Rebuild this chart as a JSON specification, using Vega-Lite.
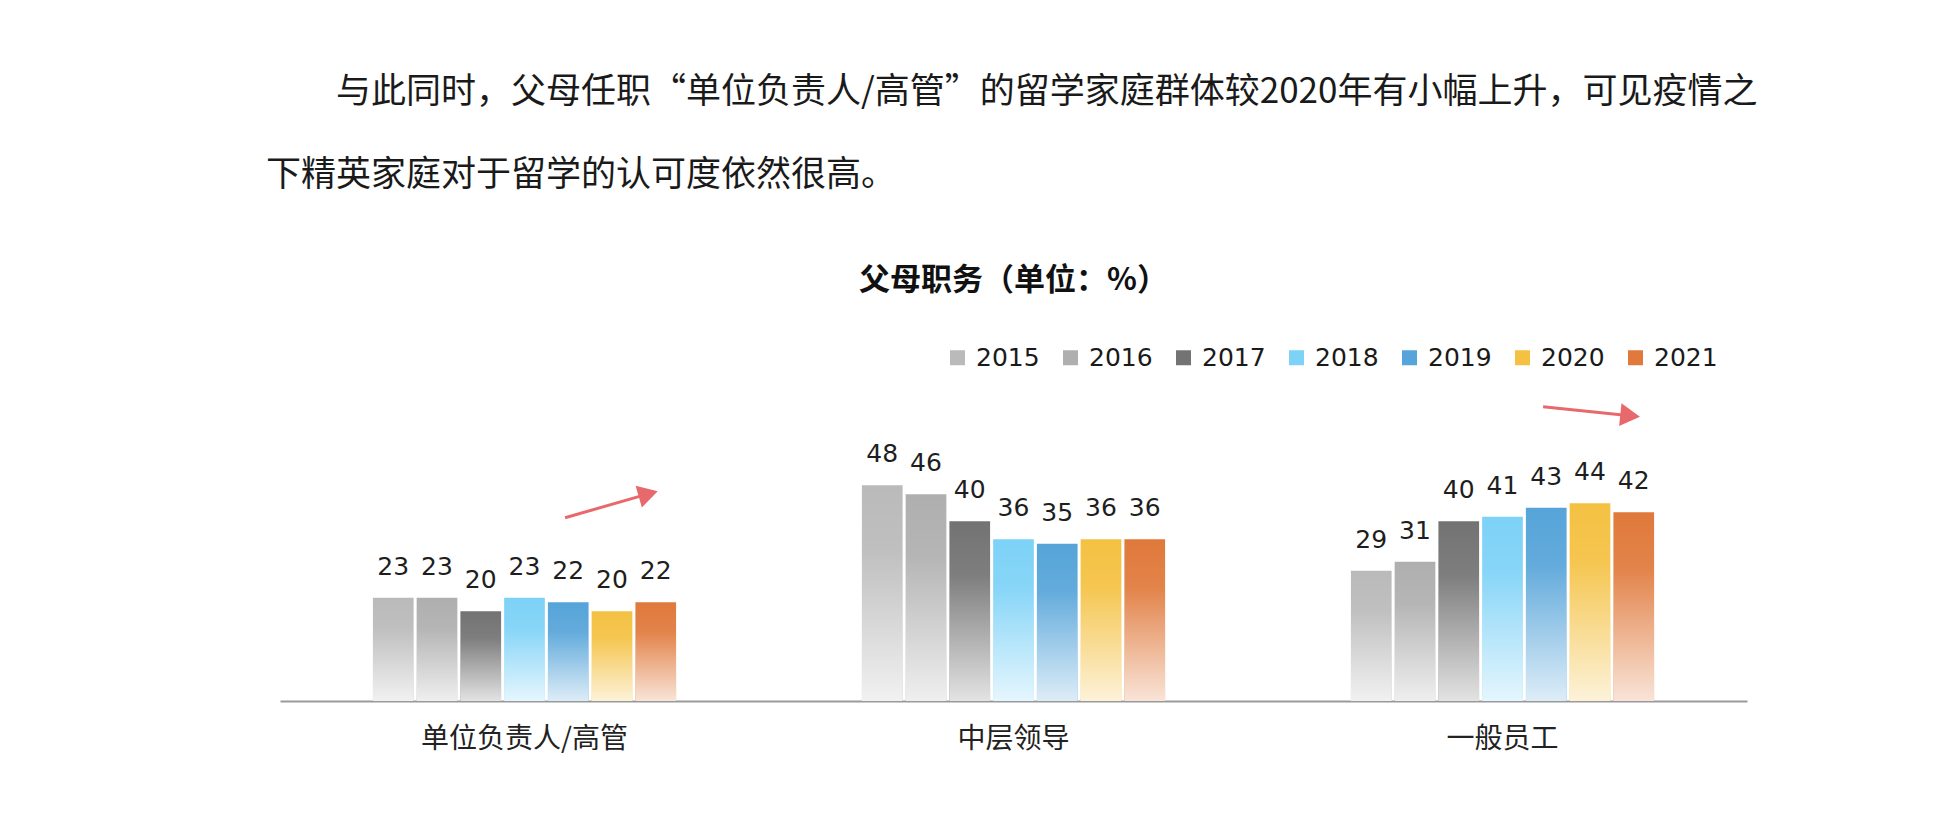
{
  "$schema": "https://vega.github.io/schema/vega-lite/v6.json",
  "background": "white",
  "padding": {"left": 266, "top": 75, "right": 10, "bottom": 10},
  "autosize": {"type": "pad"},
  "config": {
    "view": {"stroke": null},
    "concat": {"spacing": 0}
  },
  "datasets": {
    "bars": [
      {"group": "单位负责人/高管", "year": "2015", "value": 23},
      {"group": "单位负责人/高管", "year": "2016", "value": 23},
      {"group": "单位负责人/高管", "year": "2017", "value": 20},
      {"group": "单位负责人/高管", "year": "2018", "value": 23},
      {"group": "单位负责人/高管", "year": "2019", "value": 22},
      {"group": "单位负责人/高管", "year": "2020", "value": 20},
      {"group": "单位负责人/高管", "year": "2021", "value": 22},
      {"group": "中层领导", "year": "2015", "value": 48},
      {"group": "中层领导", "year": "2016", "value": 46},
      {"group": "中层领导", "year": "2017", "value": 40},
      {"group": "中层领导", "year": "2018", "value": 36},
      {"group": "中层领导", "year": "2019", "value": 35},
      {"group": "中层领导", "year": "2020", "value": 36},
      {"group": "中层领导", "year": "2021", "value": 36},
      {"group": "一般员工", "year": "2015", "value": 29},
      {"group": "一般员工", "year": "2016", "value": 31},
      {"group": "一般员工", "year": "2017", "value": 40},
      {"group": "一般员工", "year": "2018", "value": 41},
      {"group": "一般员工", "year": "2019", "value": 43},
      {"group": "一般员工", "year": "2020", "value": 44},
      {"group": "一般员工", "year": "2021", "value": 42}
    ],
    "arrows": [
      {"arrow": "a", "x": 0.583, "y": 40.8, "x2": 0.753, "y2": 46.1},
      {"arrow": "b", "x": 2.583, "y": 65.5, "x2": 2.761, "y2": 63.5}
    ]
  },
  "title": {
    "text": ["\u200b\u3000\u3000与此同时，父母任职“单位负责人/高管”的留学家庭群体较2020年有小幅上升，可见疫情之", "下精英家庭对于留学的认可度依然很高。"],
    "anchor": "start",
    "frame": "group",
    "dx": -14,
    "font": "Noto Sans CJK SC",
    "fontSize": 35,
    "fontWeight": "normal",
    "lineHeight": 83,
    "color": "#1a1a1a",
    "offset": 72
  },
  "vconcat": [
    {
      "width": 1467,
      "height": 292,
      "title": {
        "text": "父母职务（单位：%）",
        "anchor": "middle",
        "font": "Noto Sans CJK SC",
        "fontSize": 31,
        "fontWeight": "bold",
        "color": "#111111",
        "offset": 106
      },
      "layer": [
        {
          "data": {"name": "bars"},
          "layer": [
            {
              "mark": {"type": "bar"},
              "encoding": {
                "x": {
                  "field": "group", "type": "nominal",
                  "sort": ["单位负责人/高管", "中层领导", "一般员工"],
                  "scale": {"paddingInner": 0.38, "paddingOuter": 0.19},
                  "axis": {
                    "title": null, "ticks": false, "labelAngle": 0, "labelLimit": 0,
                    "labelFont": "Noto Sans CJK SC", "labelFontSize": 28, "labelColor": "#222222",
                    "labelPadding": 24, "domainColor": "#9a9a9a", "domainWidth": 2
                  }
                },
                "xOffset": {"field": "year", "type": "nominal", "scale": {"paddingInner": 0.07, "paddingOuter": 0}},
                "y": {"field": "value", "type": "quantitative", "scale": {"domain": [0, 65], "nice": false}, "axis": null},
                "fill": {
                  "field": "year", "type": "nominal",
                  "scale": {
                    "domain": ["2015", "2016", "2017", "2018", "2019", "2020", "2021"],
                    "range": ["#bababa", "#afafaf", "#737373", "#7dd2f7", "#56a4d9", "#f4c142", "#e0793b"]
                  },
                  "legend": {
                    "orient": "none", "legendX": 665, "legendY": -64, "direction": "horizontal", "columns": 7,
                    "title": null, "symbolType": "square", "symbolSize": 225, "symbolStrokeWidth": 0,
                    "labelFont": "DejaVu Sans", "labelFontSize": 25, "labelColor": "#1a1a1a", "labelOffset": 6,
                    "columnPadding": 18, "padding": 0
                  }
                }
              }
            },
            {
              "mark": {
                "type": "bar",
                "color": {"gradient": "linear", "x1": 0, "y1": 0, "x2": 0, "y2": 1,
                  "stops": [{"offset": 0, "color": "rgba(255,255,255,0)"}, {"offset": 0.3, "color": "rgba(255,255,255,0.08)"}, {"offset": 1, "color": "rgba(255,255,255,0.8)"}]}
              },
              "encoding": {
                "x": {"field": "group", "type": "nominal", "sort": ["单位负责人/高管", "中层领导", "一般员工"], "scale": {"paddingInner": 0.38, "paddingOuter": 0.19}},
                "xOffset": {"field": "year", "type": "nominal", "scale": {"paddingInner": 0.07, "paddingOuter": 0}},
                "y": {"field": "value", "type": "quantitative"}
              }
            },
            {
              "mark": {"type": "text", "baseline": "middle", "dy": -31, "font": "DejaVu Sans", "fontSize": 25, "color": "#1e1e1e"},
              "encoding": {
                "x": {"field": "group", "type": "nominal", "sort": ["单位负责人/高管", "中层领导", "一般员工"], "scale": {"paddingInner": 0.38, "paddingOuter": 0.19}},
                "xOffset": {"field": "year", "type": "nominal", "scale": {"paddingInner": 0.07, "paddingOuter": 0}},
                "y": {"field": "value", "type": "quantitative"},
                "text": {"field": "value", "type": "quantitative"}
              }
            }
          ]
        },
        {
          "data": {"name": "arrows"},
          "layer": [
            {
              "mark": {"type": "rule", "color": "#e8696b", "strokeWidth": 3},
              "encoding": {
                "x": {"field": "x", "type": "quantitative", "scale": {"domain": [0, 3], "nice": false, "zero": false}, "axis": null},
                "x2": {"field": "x2"},
                "y": {"field": "y", "type": "quantitative"},
                "y2": {"field": "y2"}
              }
            },
            {
              "transform": [{"filter": "datum.arrow === 'a'"}],
              "mark": {"type": "point", "shape": "triangle-right", "filled": true, "color": "#e8696b", "opacity": 1, "size": 520, "angle": -16},
              "encoding": {
                "x": {"field": "x2", "type": "quantitative"},
                "y": {"field": "y2", "type": "quantitative"}
              }
            },
            {
              "transform": [{"filter": "datum.arrow === 'b'"}],
              "mark": {"type": "point", "shape": "triangle-right", "filled": true, "color": "#e8696b", "opacity": 1, "size": 520, "angle": 6},
              "encoding": {
                "x": {"field": "x2", "type": "quantitative"},
                "y": {"field": "y2", "type": "quantitative"}
              }
            }
          ]
        }
      ],
      "resolve": {"scale": {"x": "independent"}, "axis": {"x": "independent"}}
    }
  ]
}
